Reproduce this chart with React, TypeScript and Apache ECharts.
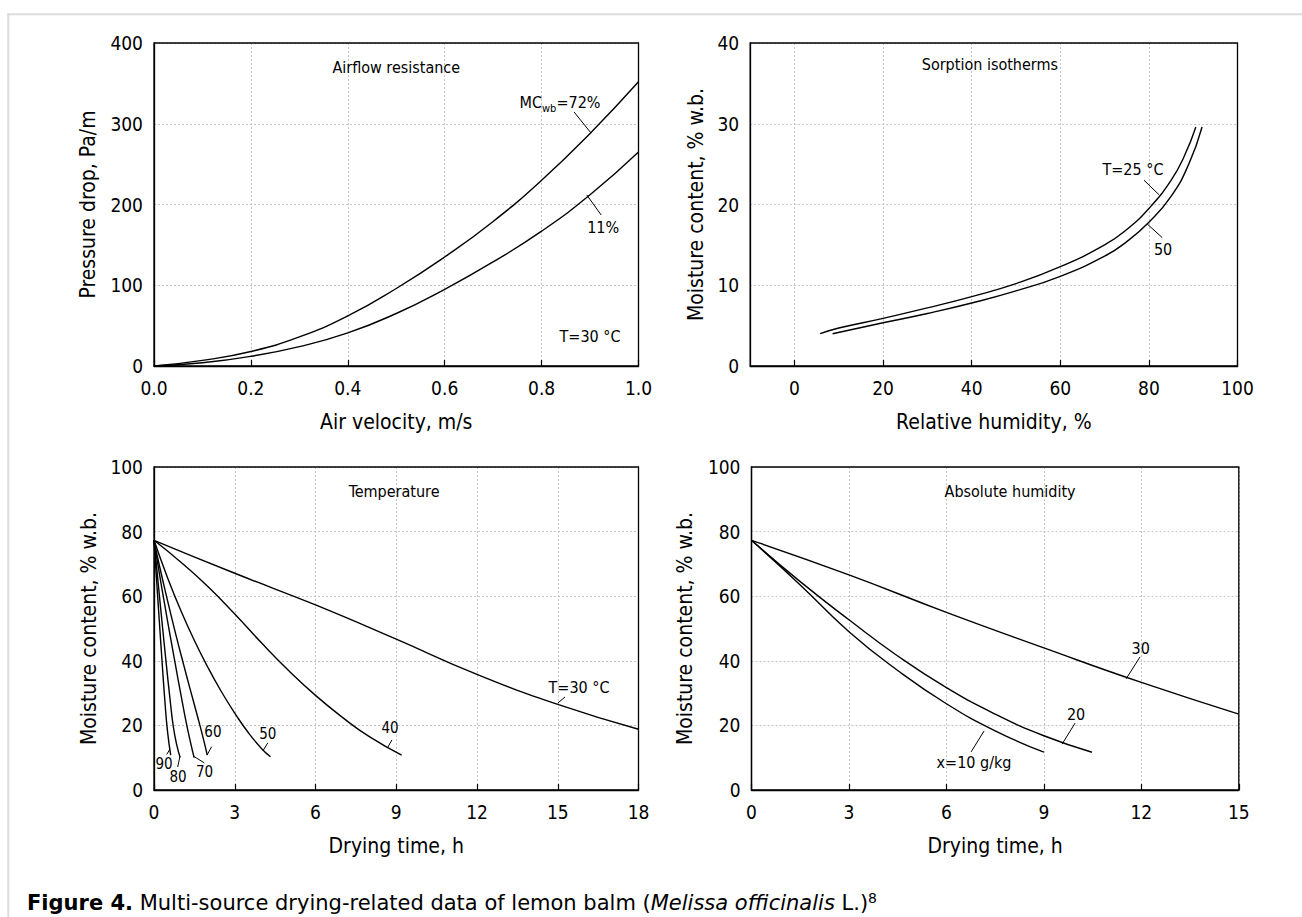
import React, { useEffect, useRef } from "react";
import * as echarts from "echarts";

const FONT = "'DejaVu Sans Condensed', 'DejaVu Sans', sans-serif";
const CAPTION_FONT = "'DejaVu Sans', sans-serif";

// ---- (a) Airflow resistance ----
const airVelocity = [0, 0.1, 0.2, 0.3, 0.4, 0.5, 0.6, 0.7, 0.8, 0.9, 1.0];
const pressureMC72 = [0, 7, 18, 36, 62, 96, 135, 179, 230, 288, 352];
const pressureMC11 = [0, 4, 12, 24, 41, 65, 95, 129, 167, 212, 265];

// ---- (b) Sorption isotherms ----
const rhT25 = [5.8, 10, 20, 30, 40, 50, 60, 70, 75, 80, 85, 88, 90.6];
const mcT25 = [4.0, 4.7, 5.9, 7.2, 8.6, 10.2, 12.3, 15.0, 16.9, 19.5, 23.0, 26.0, 29.6];
const rhT50 = [8.6, 20, 30, 40, 50, 60, 70, 75, 80, 85, 89, 92];
const mcT50 = [4.0, 5.35, 6.5, 7.8, 9.3, 11.1, 13.6, 15.4, 17.8, 21.0, 25.0, 29.6];

// ---- (c) Temperature ----
const timeT30 = [0, 3, 6, 9, 12, 15, 18];
const mcDT30 = [77.3, 67.1, 57.3, 46.7, 35.8, 26.5, 18.8];
const timeT40 = [0, 1, 2, 3, 4, 5, 6, 7, 8, 9.2];
const mcDT40 = [77.3, 70.5, 63, 54.5, 45.5, 37, 29.3, 22.5, 16.5, 10.8];
const timeT50 = [0, 0.5, 1.0, 1.5, 2.0, 2.5, 3.0, 3.5, 4.0, 4.33];
const mcDT50 = [77.3, 65.8, 55.5, 46.3, 38.0, 30.5, 23.8, 17.8, 12.8, 10.3];
const timeT60 = [0, 0.2, 0.45, 0.8, 1.11, 1.35, 1.61, 1.8, 1.98];
const mcDT60 = [77.3, 69.5, 60.5, 48.5, 38.5, 31, 23, 17, 10.8];
const timeT70 = [0, 0.2, 0.4, 0.6, 0.8, 1.0, 1.2, 1.35, 1.49];
const mcDT70 = [77.3, 67, 57.3, 47.8, 38.6, 29.5, 20.8, 15.0, 10.0];
const timeT80 = [0, 0.15, 0.3, 0.45, 0.6, 0.72, 0.85, 0.97];
const mcDT80 = [77.3, 64.5, 51.8, 39.5, 27.8, 19.5, 13.8, 10.1];
const timeT90 = [0, 0.1, 0.2, 0.3, 0.4, 0.5, 0.62];
const mcDT90 = [77.3, 64.5, 52, 39.7, 28, 18.3, 10.8];

// ---- (d) Absolute humidity ----
const timeX30 = [0, 3, 6, 9, 12, 15];
const mcX30 = [77.3, 66.6, 55, 44, 33.3, 23.5];
const timeX20 = [0, 1.5, 3, 4.5, 6, 7.5, 9, 10.48];
const mcX20 = [77.3, 64.5, 52.7, 41.5, 31.7, 23.5, 16.8, 11.7];
const timeX10 = [0, 1.5, 3, 4.5, 6, 7.5, 9];
const mcX10 = [77.3, 63.5, 49, 37, 26.7, 18.3, 11.7];

// ---- axes ----
const xNames = ["Air velocity, m/s", "Relative humidity, %", "Drying time, h", "Drying time, h"];
const yNames = ["Pressure drop, Pa/m", "Moisture content, % w.b.", "Moisture content, % w.b.", "Moisture content, % w.b."];
const xMin = [0, -10, 0, 0];
const xMax = [1, 100, 18, 15];
const xInterval = [0.2, null, 3, 3];
const yMin = [0, 0, 0, 0];
const yMax = [400, 40, 100, 100];
const yInterval = [100, 10, 20, 20];

// ---- annotations (data coordinates) ----
const panelTitles = [
  { g: 0, text: "Airflow resistance", x: 0.5, y: 370 },
  { g: 1, text: "Sorption isotherms", x: 44.1, y: 37.3 },
  { g: 2, text: "Temperature", x: 8.92, y: 92.3 },
  { g: 3, text: "Absolute humidity", x: 7.96, y: 92.3 },
];
const curveLabels = [
  { g: 0, text: "11%", x: 0.927, y: 172 },
  { g: 0, text: "T=30 °C", x: 0.9, y: 36 },
  { g: 1, text: "T=25 °C", x: 76.4, y: 24.3 },
  { g: 1, text: "50", x: 83.2, y: 14.4 },
  { g: 2, text: "T=30 °C", x: 15.79, y: 31.6 },
  { g: 2, text: "40", x: 8.77, y: 19.2 },
  { g: 2, text: "50", x: 4.23, y: 17.2 },
  { g: 2, text: "60", x: 2.19, y: 18.0 },
  { g: 2, text: "70", x: 1.88, y: 5.6 },
  { g: 2, text: "80", x: 0.89, y: 4.0 },
  { g: 2, text: "90", x: 0.37, y: 8.0 },
  { g: 3, text: "30", x: 11.98, y: 43.7 },
  { g: 3, text: "20", x: 9.99, y: 23.5 },
  { g: 3, text: "x=10 g/kg", x: 6.85, y: 8.4 },
];
const leaders = [
  { g: 0, a: [0.867, 314.6], b: [0.902, 288.5] },
  { g: 0, a: [0.893, 212], b: [0.923, 187] },
  { g: 1, a: [78.9, 23.0], b: [82.3, 21.2] },
  { g: 1, a: [79.6, 17.6], b: [83.0, 15.9] },
  { g: 2, a: [15.0, 26.9], b: [15.27, 28.8] },
  { g: 2, a: [8.69, 13.3], b: [8.84, 15.5] },
  { g: 2, a: [4.05, 12.2], b: [4.23, 14.6] },
  { g: 2, a: [1.97, 10.8], b: [2.14, 13.4] },
  { g: 2, a: [1.46, 10.5], b: [1.87, 8.4] },
  { g: 2, a: [0.966, 10.5], b: [0.88, 7.1] },
  { g: 2, a: [0.59, 12.6], b: [0.47, 11.0] },
  { g: 3, a: [11.96, 41.2], b: [11.53, 34.4] },
  { g: 3, a: [9.96, 20.7], b: [9.56, 14.2] },
  { g: 3, a: [7.16, 18.3], b: [6.76, 11.8] },
];

const pairs = (xs: number[], ys: number[]) => xs.map((x, i) => [x, ys[i]]);

const gridRects = [
  { left: 154, top: 43, width: 484.5, height: 323 },
  { left: 750.2, top: 43, width: 487.3, height: 323 },
  { left: 154, top: 467, width: 484.5, height: 323 },
  { left: 751.5, top: 467, width: 487.3, height: 323 },
];
const yNameGap = [56, 44, 55, 56];

export default function App() {
  const ref = useRef<HTMLDivElement>(null);
  useEffect(() => {
    document.body.style.margin = "0";
    if (!ref.current) return;
    const chart = echarts.init(ref.current, undefined, { renderer: "svg" });

    const lineSeries = (g: number, xs: number[], ys: number[], name: string) => ({
      type: "line",
      name,
      xAxisIndex: g,
      yAxisIndex: g,
      data: pairs(xs, ys),
      showSymbol: false,
      symbol: "none",
      smooth: 0.5,
      lineStyle: { color: "#000", width: 1.4 },
      silent: true,
    });

    const option: any = {
      animation: false,
      backgroundColor: "#fff",
      textStyle: { fontFamily: FONT },
      grid: gridRects.map((r) => ({ ...r, containLabel: false })),
      xAxis: [0, 1, 2, 3].map((g) => ({
        type: "value",
        gridIndex: g,
        min: xMin[g],
        max: xMax[g],
        ...(xInterval[g] != null ? { interval: xInterval[g] } : { splitNumber: 5 }),
        name: xNames[g],
        nameLocation: "middle",
        nameGap: 45,
        nameTextStyle: { fontSize: 21, color: "#000", fontFamily: FONT },
        axisLine: { show: true, onZero: false, lineStyle: { color: "#000", width: 1.3 } },
        axisTick: { show: true, inside: true, length: 6, lineStyle: { color: "#000", width: 1.2 } },
        splitLine: { show: true, lineStyle: { color: "#c4c4c4", width: 1, type: [2, 2] } },
        axisLabel: {
          fontSize: 19,
          color: "#000",
          fontFamily: FONT,
          margin: 12,
          showMinLabel: g !== 1,
          formatter: (v: number) => (g === 0 ? v.toFixed(1) : String(Math.round(v))),
        },
      })),
      yAxis: [0, 1, 2, 3].map((g) => ({
        type: "value",
        gridIndex: g,
        min: yMin[g],
        max: yMax[g],
        interval: yInterval[g],
        name: yNames[g],
        nameLocation: "middle",
        nameGap: yNameGap[g],
        nameTextStyle: { fontSize: 21, color: "#000", fontFamily: FONT },
        axisLine: { show: true, onZero: false, lineStyle: { color: "#000", width: 1.3 } },
        axisTick: { show: false },
        splitLine: { show: true, lineStyle: { color: "#c4c4c4", width: 1, type: [2, 2] } },
        axisLabel: { fontSize: 19, color: "#000", fontFamily: FONT, margin: 11 },
      })),
      series: [
        lineSeries(0, airVelocity, pressureMC72, "MCwb=72%"),
        lineSeries(0, airVelocity, pressureMC11, "11%"),
        lineSeries(1, rhT25, mcT25, "T=25 °C"),
        lineSeries(1, rhT50, mcT50, "T=50 °C"),
        lineSeries(2, timeT30, mcDT30, "T=30 °C"),
        lineSeries(2, timeT40, mcDT40, "40"),
        lineSeries(2, timeT50, mcDT50, "50"),
        lineSeries(2, timeT60, mcDT60, "60"),
        lineSeries(2, timeT70, mcDT70, "70"),
        lineSeries(2, timeT80, mcDT80, "80"),
        lineSeries(2, timeT90, mcDT90, "90"),
        lineSeries(3, timeX30, mcX30, "30"),
        lineSeries(3, timeX20, mcX20, "20"),
        lineSeries(3, timeX10, mcX10, "x=10 g/kg"),
      ],
    };
    chart.setOption(option);

    const px = (g: number, x: number, y: number) =>
      chart.convertToPixel({ gridIndex: g } as any, [x, y]) as number[];

    const graphic: any[] = [];
    graphic.push({
      type: "line",
      shape: { x1: 8.3, y1: 13.3, x2: 8.3, y2: 917 },
      style: { stroke: "#dcdcdc", lineWidth: 2 },
      z: 1,
    });
    graphic.push({
      type: "line",
      shape: { x1: 7.3, y1: 14.3, x2: 1302, y2: 14.3 },
      style: { stroke: "#dcdcdc", lineWidth: 2 },
      z: 1,
    });
    for (let g = 0; g < 4; g++) {
      const p0 = px(g, xMin[g], yMax[g]);
      const p1 = px(g, xMax[g], yMin[g]);
      graphic.push({
        type: "rect",
        shape: { x: p0[0], y: p0[1], width: p1[0] - p0[0], height: p1[1] - p0[1] },
        style: { fill: "none", stroke: "#000", lineWidth: 1.3 },
        z: 20,
        silent: true,
      });
    }
    const txt = (x: number, y: number, text: string, size: number, extra: any = {}) => ({
      type: "text",
      x,
      y,
      z: 25,
      silent: true,
      style: {
        text,
        fill: "#000",
        fontSize: size,
        fontFamily: FONT,
        align: "center",
        verticalAlign: "middle",
        textAlign: "center",
        textVerticalAlign: "middle",
        ...extra,
      },
    });
    panelTitles.forEach((t) => {
      const p = px(t.g, t.x, t.y);
      graphic.push(txt(p[0], p[1], t.text, 16));
    });
    curveLabels.forEach((t) => {
      const p = px(t.g, t.x, t.y);
      graphic.push(txt(p[0], p[1], t.text, t.g === 2 && t.text.length <= 2 ? 15 : 16));
    });
    {
      const p = px(0, 0.838, 325.7);
      graphic.push(
        txt(p[0], p[1], "{a|MC}{b|wb}{a|=72%}", 16, {
          lineHeight: 22,
          rich: {
            a: { fontSize: 16, fontFamily: FONT, fill: "#000", lineHeight: 22, verticalAlign: "middle" },
            b: { fontSize: 11, fontFamily: FONT, fill: "#000", lineHeight: 11, verticalAlign: "bottom" },
          },
        })
      );
    }
    leaders.forEach((l) => {
      const a = px(l.g, l.a[0], l.a[1]);
      const b = px(l.g, l.b[0], l.b[1]);
      graphic.push({
        type: "line",
        z: 25,
        silent: true,
        shape: { x1: a[0], y1: a[1], x2: b[0], y2: b[1] },
        style: { stroke: "#000", lineWidth: 1 },
      });
    });
    graphic.push({
      type: "text",
      x: 27,
      y: 903,
      z: 25,
      silent: true,
      style: {
        text: "{b|Figure 4.} Multi-source drying-related data of lemon balm ({i|Melissa officinalis} L.){s|8}",
        fill: "#000",
        fontSize: 21,
        fontFamily: CAPTION_FONT,
        lineHeight: 24,
        align: "left",
        verticalAlign: "middle",
        textAlign: "left",
        textVerticalAlign: "middle",
        rich: {
          b: { fontSize: 21, fontWeight: "bold", fontFamily: CAPTION_FONT, fill: "#000", lineHeight: 24 },
          i: { fontSize: 21, fontStyle: "italic", fontFamily: CAPTION_FONT, fill: "#000", lineHeight: 24 },
          s: { fontSize: 14, fontFamily: CAPTION_FONT, fill: "#000", lineHeight: 14, verticalAlign: "top" },
        },
      },
    });
    chart.setOption({ graphic });

    return () => chart.dispose();
  }, []);
  return <div ref={ref} style={{ width: 1302, height: 917 }} />;
}
